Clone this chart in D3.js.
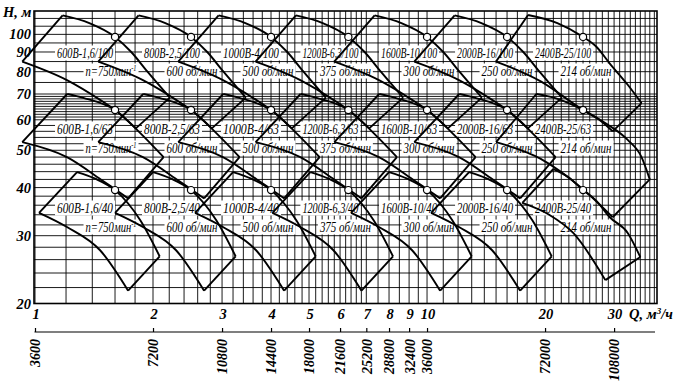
<!DOCTYPE html>
<html><head><meta charset="utf-8">
<script src="https://cdn.jsdelivr.net/npm/d3@7/dist/d3.min.js"></script>
<style>body{margin:0;background:#fff}svg{display:block}</style>
</head><body>
<svg id="c" width="677" height="390"></svg>
<script>
// ---------------- DATA ----------------
const pumpNames = ["600В-1,6","800В-2,5","1000В-4","1200В-6,3","1600В-10","2000В-16","2400В-25"];
const ratedQ = [1.6, 2.5, 4, 6.3, 10, 16, 25];            // m3/s
const speedLabels = ["n=750мин","600 об/мин","500 об/мин","375 об/мин","300 об/мин","250 об/мин","214 об/мин"];
const rowHeads = [100, 63, 40];                            // impeller variants
const ratedH = [98.5, 63.6, 39.4];                         // circle heads
const fieldKind = ["std","std","std","std","std","std","wide"];
// field outlines relative to rated Q: [Q/Qrated, H]
// standard pumps
const top100 = [[0.735,112],[0.86,107],[1.0,98.5],[1.10,90],[1.21,80],[1.38,68.5]];
const bot100 = [[0.58,85],[0.754,76.1],[0.916,67.6],[1.0,63.6],[1.13,57]];
const top63  = [[0.755,70],[0.83,68.4],[1.0,63.6],[1.16,55.4],[1.33,48]];
const bot63  = [[0.58,52.5],[0.754,48],[0.92,42],[1.0,39.6],[1.08,37.5]];
const top40  = [[0.80,43.9],[0.89,42.2],[1.0,39.4],[1.16,32.9],[1.30,26.5]];
const bot40  = [[0.64,34.4],[0.754,31.6],[0.916,27.5],[1.08,21.6]];
// 2400В pump (wider field)
const top100w = [[0.724,112.3],[0.86,107],[1.0,98.5],[1.08,93],[1.17,84],[1.30,74],[1.41,66.3]];
const bot100w = [[0.60,85],[0.78,75.5],[1.0,63.6],[1.10,60],[1.19,56]];
const top63w  = [[0.76,70],[0.85,68.3],[1.0,63.6],[1.15,58.5],[1.30,53.2],[1.41,48],[1.48,42]];
const bot63w  = [[0.60,52.5],[0.78,47.5],[1.0,39.6],[1.19,33.5]];
const top40w  = [[0.84,44.7],[0.92,42.5],[1.0,39.4],[1.08,37],[1.17,33.5],[1.30,30.5],[1.40,26.4]];
const bot40w  = [[0.70,36.5],[0.82,34],[0.944,30.5],[1.14,23.0]];
const qTicks = [1,2,3,4,5,6,7,8,9,10,20,30];
const hTicks = [20,30,40,50,60,70,80,90,100];
const flowTicks = [3600,7200,10800,14400,18000,21600,25200,28800,32400,36000,72000,108000]; // m3/h
const gridQ = [].concat(d3.range(1,5,0.2), d3.range(5,7,0.2), d3.range(7,10,0.5), d3.range(10,39,1));
const gridH = [].concat(d3.range(20,60,2), d3.range(60,70,1), d3.range(70,115,5));

// ---------------- LAYOUT ----------------
const svg = d3.select("#c");
const x = d3.scaleLog().domain([1, 38.6]).range([35, 657]);
const y = d3.scaleLog().domain([20, 115]).range([303.5, 11]);
const xFlow = d3.scaleLog().domain([3600, 3600*38.6]).range([35, 657]);
const serif = "'Liberation Serif','DejaVu Serif',serif";
const nameDx = [-30,-19,-20,-18,-18,-22,-20];
const speedDx = [-4,1,-3,-3,2,0,3];
const nameY = [53,129,208], speedY = [71,148,227];
const shapes = {
  std:  [[top100,bot100],[top63,bot63],[top40,bot40]],
  wide: [[top100w,bot100w],[top63w,bot63w],[top40w,bot40w]]
};

// grid
const g = svg.append("g").attr("stroke","#000").attr("stroke-width",0.9);
g.selectAll("line.v").data(gridQ).join("line")
  .attr("x1",d=>x(d)).attr("x2",d=>x(d)).attr("y1",y(115)).attr("y2",y(20));
g.selectAll("line.h").data(gridH).join("line")
  .attr("x1",x(1)-1).attr("x2",657).attr("y1",d=>y(d)).attr("y2",d=>y(d));
svg.append("rect").attr("x",34).attr("y",11).attr("width",623).attr("height",292.5)
  .attr("fill","none").attr("stroke","#000").attr("stroke-width",1.6);

// label specs
const labels = [];
rowHeads.forEach((h,r)=>{
  ratedQ.forEach((q,i)=>{
    labels.push({t:pumpNames[i]+"/"+h, cx:x(q)+nameDx[i], cy:nameY[r], w:56, sup:false});
    labels.push({t:speedLabels[i], cx:x(q)+speedDx[i], cy:speedY[r], w:51, sup:i===0});
  });
});
svg.append("g").selectAll("rect").data(labels).join("rect")
  .attr("x",d=>d.cx-d.w/2-2).attr("y",d=>d.cy-7.5).attr("width",d=>d.w+4).attr("height",15)
  .attr("fill","#fff");

// fields
const line = d3.line().x(d=>x(d[0])).y(d=>y(d[1]));
const curve = d3.line().x(d=>x(d[0])).y(d=>y(d[1])).curve(d3.curveMonotoneX);
const fg = svg.append("g").attr("fill","none").attr("stroke","#000").attr("stroke-width",1.9).attr("stroke-linejoin","miter");
rowHeads.forEach((h,r)=>{
  ratedQ.forEach((q,i)=>{
    const [top,bot] = shapes[fieldKind[i]][r];
    const T = top.map(p=>[p[0]*q,p[1]]), B = bot.map(p=>[p[0]*q,p[1]]);
    fg.append("path").attr("d", curve(T));
    fg.append("path").attr("d", curve(B));
    fg.append("path").attr("d", line([B[0],T[0]]));
    fg.append("path").attr("d", line([T[T.length-1],B[B.length-1]]));
  });
});
// rated points
rowHeads.forEach((h,r)=>{
  svg.append("g").selectAll("circle").data(ratedQ).join("circle")
    .attr("cx",d=>x(d)).attr("cy",y(ratedH[r])).attr("r",3.6)
    .attr("fill","#fff").attr("stroke","#000").attr("stroke-width",1.2);
});

// label text, horizontally condensed to fit width
const lt = svg.append("g").attr("font-family",serif).attr("font-style","italic").attr("font-size",15);
labels.forEach(d=>{
  const t = lt.append("text").attr("text-anchor","middle").text(d.t);
  if(d.sup){ t.append("tspan").attr("dy",-5).attr("font-size",9).text("-1"); }
  const len = t.node().getComputedTextLength();
  const s = Math.min(0.85, d.w/len);
  t.attr("transform",`translate(${d.cx},${d.cy+5}) scale(${s},1)`);
});

// axes text
const at = svg.append("g").attr("font-family",serif).attr("font-style","italic").attr("font-weight","bold").attr("font-size",14.5);
at.selectAll("text.h").data(hTicks).join("text").attr("x",31).attr("y",d=>y(d)+5).attr("text-anchor","end").text(d=>d);
at.append("text").attr("x",3).attr("y",17).text("H, м");
at.selectAll("text.q").data(qTicks).join("text").attr("x",d=>x(d)+1).attr("y",319).attr("text-anchor","middle").text(d=>d);
const ql = at.append("text").attr("x",629).attr("y",319).text("Q, м");
ql.append("tspan").attr("dy",-5).attr("font-size",9).text("3");
ql.append("tspan").attr("dy",5).text("/ч");

// flow axis (m3/h)
const fa = svg.append("g").attr("transform","translate(0,332)")
  .call(d3.axisBottom(xFlow).tickValues(flowTicks).tickSizeInner(-4).tickSizeOuter(0).tickFormat(d3.format("d")));
fa.select(".domain").attr("d","M34.5,0H655").attr("stroke","#000").attr("stroke-width",1.2);
fa.selectAll(".tick line").attr("stroke","#000").attr("stroke-width",1.2);
fa.selectAll(".tick text").attr("transform","rotate(-90)").attr("x",-7).attr("y",0).attr("dy","0.35em")
  .attr("text-anchor","end").attr("font-family",serif).attr("font-style","italic").attr("font-weight","bold")
  .attr("font-size",14).attr("fill","#000");
</script>
</body></html>
